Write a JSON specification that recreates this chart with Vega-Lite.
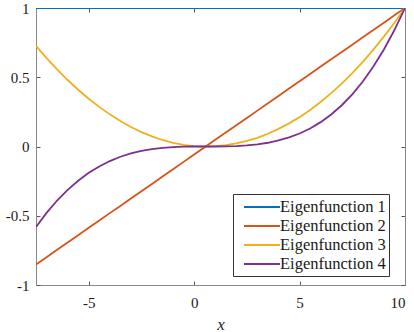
{
"$schema":"https://vega.github.io/schema/vega-lite/v6.json",
"width":369,"height":277,
"autosize":{"type":"none"},
"padding":{"left":36,"top":8,"right":9,"bottom":47},
"background":"white",
"config":{"view":{"stroke":null},"font":"Liberation Serif"},
"datasets":{"d":[
{"s":"Eigenfunction 1","x":-7.5,"y":1},{"s":"Eigenfunction 1","x":-5,"y":1},{"s":"Eigenfunction 1","x":0,"y":1},{"s":"Eigenfunction 1","x":5,"y":1},{"s":"Eigenfunction 1","x":10,"y":1},
{"s":"Eigenfunction 2","x":-7.5,"y":-0.852},{"s":"Eigenfunction 2","x":-7,"y":-0.799},{"s":"Eigenfunction 2","x":-6.5,"y":-0.746},{"s":"Eigenfunction 2","x":-6,"y":-0.693},{"s":"Eigenfunction 2","x":-5.5,"y":-0.64},{"s":"Eigenfunction 2","x":-5,"y":-0.587},{"s":"Eigenfunction 2","x":-4.5,"y":-0.534},{"s":"Eigenfunction 2","x":-4,"y":-0.481},{"s":"Eigenfunction 2","x":-3.5,"y":-0.429},{"s":"Eigenfunction 2","x":-3,"y":-0.376},{"s":"Eigenfunction 2","x":-2.5,"y":-0.323},{"s":"Eigenfunction 2","x":-2,"y":-0.27},{"s":"Eigenfunction 2","x":-1.5,"y":-0.217},{"s":"Eigenfunction 2","x":-1,"y":-0.164},{"s":"Eigenfunction 2","x":-0.5,"y":-0.111},{"s":"Eigenfunction 2","x":0,"y":-0.058},{"s":"Eigenfunction 2","x":0.5,"y":-0.005},{"s":"Eigenfunction 2","x":1,"y":0.048},{"s":"Eigenfunction 2","x":1.5,"y":0.101},{"s":"Eigenfunction 2","x":2,"y":0.153},{"s":"Eigenfunction 2","x":2.5,"y":0.206},{"s":"Eigenfunction 2","x":3,"y":0.259},{"s":"Eigenfunction 2","x":3.5,"y":0.312},{"s":"Eigenfunction 2","x":4,"y":0.365},{"s":"Eigenfunction 2","x":4.5,"y":0.418},{"s":"Eigenfunction 2","x":5,"y":0.471},{"s":"Eigenfunction 2","x":5.5,"y":0.524},{"s":"Eigenfunction 2","x":6,"y":0.577},{"s":"Eigenfunction 2","x":6.5,"y":0.63},{"s":"Eigenfunction 2","x":7,"y":0.683},{"s":"Eigenfunction 2","x":7.5,"y":0.735},{"s":"Eigenfunction 2","x":8,"y":0.788},{"s":"Eigenfunction 2","x":8.5,"y":0.841},{"s":"Eigenfunction 2","x":9,"y":0.894},{"s":"Eigenfunction 2","x":9.5,"y":0.947},{"s":"Eigenfunction 2","x":10,"y":1},
{"s":"Eigenfunction 3","x":-7.5,"y":0.726},{"s":"Eigenfunction 3","x":-7,"y":0.638},{"s":"Eigenfunction 3","x":-6.5,"y":0.557},{"s":"Eigenfunction 3","x":-6,"y":0.48},{"s":"Eigenfunction 3","x":-5.5,"y":0.41},{"s":"Eigenfunction 3","x":-5,"y":0.345},{"s":"Eigenfunction 3","x":-4.5,"y":0.286},{"s":"Eigenfunction 3","x":-4,"y":0.232},{"s":"Eigenfunction 3","x":-3.5,"y":0.184},{"s":"Eigenfunction 3","x":-3,"y":0.141},{"s":"Eigenfunction 3","x":-2.5,"y":0.104},{"s":"Eigenfunction 3","x":-2,"y":0.073},{"s":"Eigenfunction 3","x":-1.5,"y":0.047},{"s":"Eigenfunction 3","x":-1,"y":0.027},{"s":"Eigenfunction 3","x":-0.5,"y":0.012},{"s":"Eigenfunction 3","x":0,"y":0.003},{"s":"Eigenfunction 3","x":0.5,"y":0},{"s":"Eigenfunction 3","x":1,"y":0.002},{"s":"Eigenfunction 3","x":1.5,"y":0.009},{"s":"Eigenfunction 3","x":2,"y":0.022},{"s":"Eigenfunction 3","x":2.5,"y":0.04},{"s":"Eigenfunction 3","x":3,"y":0.063},{"s":"Eigenfunction 3","x":3.5,"y":0.092},{"s":"Eigenfunction 3","x":4,"y":0.127},{"s":"Eigenfunction 3","x":4.5,"y":0.167},{"s":"Eigenfunction 3","x":5,"y":0.212},{"s":"Eigenfunction 3","x":5.5,"y":0.264},{"s":"Eigenfunction 3","x":6,"y":0.321},{"s":"Eigenfunction 3","x":6.5,"y":0.385},{"s":"Eigenfunction 3","x":7,"y":0.454},{"s":"Eigenfunction 3","x":7.5,"y":0.529},{"s":"Eigenfunction 3","x":8,"y":0.611},{"s":"Eigenfunction 3","x":8.5,"y":0.699},{"s":"Eigenfunction 3","x":9,"y":0.793},{"s":"Eigenfunction 3","x":9.5,"y":0.893},{"s":"Eigenfunction 3","x":10,"y":1},
{"s":"Eigenfunction 4","x":-7.5,"y":-0.581},{"s":"Eigenfunction 4","x":-7,"y":-0.479},{"s":"Eigenfunction 4","x":-6.5,"y":-0.39},{"s":"Eigenfunction 4","x":-6,"y":-0.313},{"s":"Eigenfunction 4","x":-5.5,"y":-0.247},{"s":"Eigenfunction 4","x":-5,"y":-0.19},{"s":"Eigenfunction 4","x":-4.5,"y":-0.144},{"s":"Eigenfunction 4","x":-4,"y":-0.105},{"s":"Eigenfunction 4","x":-3.5,"y":-0.074},{"s":"Eigenfunction 4","x":-3,"y":-0.05},{"s":"Eigenfunction 4","x":-2.5,"y":-0.032},{"s":"Eigenfunction 4","x":-2,"y":-0.019},{"s":"Eigenfunction 4","x":-1.5,"y":-0.01},{"s":"Eigenfunction 4","x":-1,"y":-0.004},{"s":"Eigenfunction 4","x":-0.5,"y":-0.001},{"s":"Eigenfunction 4","x":0,"y":0},{"s":"Eigenfunction 4","x":0.5,"y":0},{"s":"Eigenfunction 4","x":1,"y":0},{"s":"Eigenfunction 4","x":1.5,"y":0.001},{"s":"Eigenfunction 4","x":2,"y":0.003},{"s":"Eigenfunction 4","x":2.5,"y":0.008},{"s":"Eigenfunction 4","x":3,"y":0.016},{"s":"Eigenfunction 4","x":3.5,"y":0.027},{"s":"Eigenfunction 4","x":4,"y":0.044},{"s":"Eigenfunction 4","x":4.5,"y":0.066},{"s":"Eigenfunction 4","x":5,"y":0.094},{"s":"Eigenfunction 4","x":5.5,"y":0.13},{"s":"Eigenfunction 4","x":6,"y":0.176},{"s":"Eigenfunction 4","x":6.5,"y":0.231},{"s":"Eigenfunction 4","x":7,"y":0.298},{"s":"Eigenfunction 4","x":7.5,"y":0.377},{"s":"Eigenfunction 4","x":8,"y":0.469},{"s":"Eigenfunction 4","x":8.5,"y":0.577},{"s":"Eigenfunction 4","x":9,"y":0.7},{"s":"Eigenfunction 4","x":9.5,"y":0.841},{"s":"Eigenfunction 4","x":10,"y":1}
]},
"data":{"name":"d"},
"layer":[
{"mark":{"type":"line","strokeWidth":1.8,"clip":true},
 "encoding":{
  "x":{"field":"x","type":"quantitative","scale":{"domain":[-7.5,10],"nice":false,"zero":false},
   "axis":{"orient":"bottom","values":[-5,0,5,10],"grid":false,"tickSize":-4,"domainColor":"#888","tickColor":"#555","labelFont":"Liberation Serif","labelFontSize":15,"labelColor":"#1a1a1a","labelPadding":14,"labelExpr":"'' + datum.value","title":"x","titleFont":"Liberation Serif","titleFontStyle":"italic","titleFontWeight":"normal","titleFontSize":17,"titleColor":"#1a1a1a","titlePadding":6}},
  "y":{"field":"y","type":"quantitative","scale":{"domain":[-1,1],"nice":false,"zero":false},
   "axis":{"orient":"left","values":[-1,-0.5,0,0.5,1],"grid":false,"tickSize":-4,"domainColor":"#888","tickColor":"#555","labelFont":"Liberation Serif","labelFontSize":15,"labelColor":"#1a1a1a","labelPadding":11,"labelExpr":"'' + datum.value","title":null}},
  "color":{"field":"s","type":"nominal","scale":{"domain":["Eigenfunction 1","Eigenfunction 2","Eigenfunction 3","Eigenfunction 4"],"range":["#0072BD","#D95319","#EDB120","#7E2F8E"]},
   "legend":{"orient":"none","legendX":197,"legendY":186,"title":null,"symbolType":"M-2,0H2","symbolSize":324,"symbolStrokeWidth":2,"symbolOffset":16,"labelFont":"Liberation Serif","labelFontSize":16.5,"labelColor":"#1a1a1a","strokeColor":"#333","fillColor":"white","padding":3,"rowPadding":0,"labelOffset":8}}
 }},
{"mark":{"type":"line","opacity":0},
 "encoding":{
  "x":{"field":"x","type":"quantitative","axis":{"orient":"top","values":[-5,0,5,10],"grid":false,"tickSize":-4,"labels":false,"domainColor":"#888","tickColor":"#555","title":null}},
  "y":{"field":"y","type":"quantitative","axis":{"orient":"right","values":[-1,-0.5,0,0.5,1],"grid":false,"tickSize":-4,"labels":false,"domainColor":"#888","tickColor":"#555","title":null}}
 }}
],
"resolve":{"axis":{"x":"independent","y":"independent"}}
}
